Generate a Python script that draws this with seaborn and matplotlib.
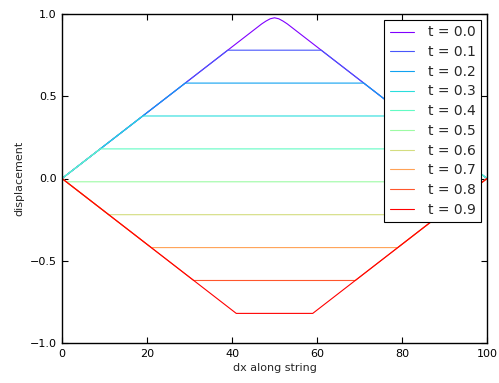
import numpy as np
import pandas as pd
import matplotlib
matplotlib.use("Agg")
import matplotlib.pyplot as plt
from matplotlib.lines import Line2D
import seaborn as sns

# ---- data ----
times = [0.0, 0.1, 0.2, 0.3, 0.4, 0.5, 0.6, 0.7, 0.8, 0.9]
x_t00 = [0, 46, 47, 48, 49, 50, 51, 52, 53, 54, 100]
y_t00 = [0, 0.92, 0.94, 0.957, 0.971, 0.977, 0.971, 0.957, 0.94, 0.92, 0]
plateau_height = [0.78, 0.58, 0.38, 0.18, -0.02, -0.22, -0.42, -0.62, -0.82]
plateau_start = [39, 29, 19, 9, 1, 11, 21, 31, 41]
plateau_end = [61, 71, 81, 91, 99, 89, 79, 69, 59]
string_ends = [0, 100]
xticks = [0, 20, 40, 60, 80, 100]
yticks = [-1.0, -0.5, 0.0, 0.5, 1.0]

labels = [f"t = {t:.1f}" for t in times]
rows = []
for i, (xx, yy) in enumerate(zip(x_t00, y_t00)):
    rows.append((labels[0], i, xx, yy))
for k, (h, a, b) in enumerate(zip(plateau_height, plateau_start, plateau_end)):
    pts = [(string_ends[0], 0.0), (a, h), (b, h), (string_ends[1], 0.0)]
    for i, (xx, yy) in enumerate(pts):
        rows.append((labels[k + 1], i, xx, yy))
df = pd.DataFrame(rows, columns=["series", "order", "x", "y"])

sns.set_style("ticks")
plt.rcParams["font.family"] = ["DejaVu Sans"]
colors = [matplotlib.cm.rainbow(v) for v in np.linspace(0, 1, len(times))]

fig = plt.figure(figsize=(4.99, 3.83), dpi=100)
ax = fig.add_axes([62 / 499, 1 - 343 / 383, 425 / 499, 329 / 383])
sns.lineplot(data=df, x="x", y="y", hue="series", hue_order=labels,
             palette=colors, sort=False, estimator=None, legend=False,
             linewidth=0.8, ax=ax)

ax.set_xlim(0, 100)
ax.set_ylim(-1.0, 1.0)
ax.set_xticks(xticks)
ax.set_yticks(yticks)
ax.set_xticklabels([str(v) for v in xticks])
ax.set_yticklabels([f"{v:.1f}".replace("-", "\u2212") for v in yticks])
ax.tick_params(direction="in", top=True, right=True, length=4, width=0.8,
               labelsize=8, pad=4, colors="black")
for s in ax.spines.values():
    s.set_color("black")
    s.set_linewidth(1.0)
ax.set_xlabel("dx along string", fontsize=8, labelpad=3)
ax.set_ylabel("displacement", fontsize=8, labelpad=4)

handles = [Line2D([], [], color=c, linewidth=0.8) for c in colors]
leg = ax.legend(handles, labels, loc="upper right", fontsize=10, frameon=True,
                fancybox=False, edgecolor="black", framealpha=1,
                handlelength=1.7, handletextpad=1.0, labelspacing=0.41,
                borderpad=0.42, borderaxespad=0.4)
leg.get_frame().set_linewidth(0.8)

fig.savefig("out.png", dpi=100)
